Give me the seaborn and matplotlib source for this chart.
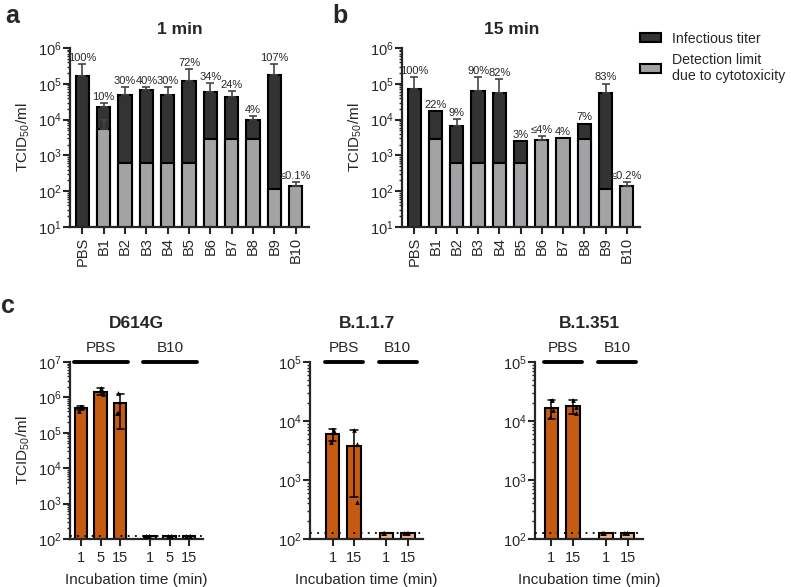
import numpy as np
import pandas as pd
import matplotlib.pyplot as plt
from matplotlib.patches import Patch
import seaborn as sns

sns.set_style('ticks')
plt.rcParams['font.family'] = ['Liberation Sans', 'DejaVu Sans']
plt.rcParams['font.size'] = 10
plt.rcParams['axes.linewidth'] = 1.6

# Panel a/b data (TCID50/ml)
beads = ['PBS', 'B1', 'B2', 'B3', 'B4', 'B5', 'B6', 'B7', 'B8', 'B9', 'B10']
nan = np.nan

titer_1min = [1.7e5, 2.3e4, 5.0e4, 6.8e4, 5.0e4, 1.2e5, 5.9e4, 4.3e4, 9.8e3, 1.8e5, nan]
titer_1min_top = [3.5e5, 2.9e4, 8.1e4, 8.1e4, 8.1e4, 2.6e5, 1.05e5, 6.3e4, 1.26e4, 3.5e5, nan]
limit_1min = [nan, 5.5e3, 600, 600, 600, 600, 2.9e3, 2.9e3, 2.9e3, 115, 140]
limit_1min_top = [nan, 9.8e3, nan, nan, nan, nan, nan, nan, nan, nan, 180]
pct_1min = ['100%', '10%', '30%', '40%', '30%', '72%', '34%', '24%', '4%', '107%', '≤0.1%']

titer_15min = [7.1e4, 1.75e4, 6.6e3, 6.3e4, 5.5e4, 2.5e3, nan, nan, 7.6e3, 5.5e4, nan]
titer_15min_top = [1.55e5, nan, 1.04e4, 1.55e5, 1.35e5, nan, nan, nan, nan, 1.0e5, nan]
limit_15min = [nan, 2.9e3, 600, 600, 600, 600, 2.7e3, 3.0e3, 2.9e3, 115, 140]
limit_15min_top = [nan, nan, nan, nan, nan, nan, 3.5e3, nan, nan, nan, 180]
pct_15min = ['100%', '22%', '9%', '90%', '82%', '3%', '≤4%', '4%', '7%', '83%', '≤0.2%']

# Panel c data: replicate titers per incubation time
d614g_times = ['1', '5', '15']
d614g_pbs = [[5.5e5, 5.5e5, 4.2e5], [1.85e6, 1.3e6, 1.25e6], [1.3e6, 3.6e5, 3.6e5]]
d614g_b10 = [[125, 125, 125], [125, 125, 125], [125, 125, 125]]

b117_times = ['1', '15']
b117_pbs = [[6.8e3, 6.8e3, 4.4e3], [7.0e3, 4.0e3, 430]]
b117_b10 = [[125, 125, 125], [125, 125, 125]]

b1351_times = ['1', '15']
b1351_pbs = [[2.3e4, 1.55e4, 1.15e4], [2.3e4, 1.75e4, 1.35e4]]
b1351_b10 = [[125, 125, 125], [125, 125, 125]]

detection_c = 125

dark = '#333333'
light = '#a3a3a5'
orange = '#c55a11'
light_orange = '#f4b183'

fig = plt.figure(figsize=(7.91, 5.87), dpi=100)
W, H = 791, 587


def add_ax(x0, x1, y0, y1):
    return fig.add_axes([x0 / W, 1 - y1 / H, (x1 - x0) / W, (y1 - y0) / H])


def style_log(ax, lo, hi):
    ax.set_yscale('log')
    ax.set_ylim(lo, hi)
    sns.despine(ax=ax)
    ax.tick_params(axis='y', which='major', length=5, width=1.5, labelsize=10.5, pad=1)
    ax.tick_params(axis='y', which='minor', length=2.5, width=1.0)
    ax.tick_params(axis='x', length=5, width=1.5, labelsize=10.5)


def draw_screen(ax, titer, titer_top, limit, limit_top, pct, title):
    df = pd.DataFrame({'bead': beads, 'titer': titer, 'limit': limit})
    kw = dict(edgecolor='black', linewidth=1.5, width=0.62, errorbar=None,
              saturation=1, ax=ax)
    sns.barplot(data=df, x='bead', y='titer', color=dark, **kw)
    sns.barplot(data=df, x='bead', y='limit', color=light, **kw)
    x = np.arange(len(beads))
    for vals, tops in [(titer, titer_top), (limit, limit_top)]:
        v = np.array(vals, float)
        t = np.array(tops, float)
        ok = ~np.isnan(t)
        ax.errorbar(x[ok], v[ok], yerr=[np.zeros(ok.sum()), t[ok] - v[ok]],
                    fmt='none', ecolor='#444444', elinewidth=1.2, capsize=3,
                    capthick=1.2, zorder=1)
    style_log(ax, 10, 1e6)
    ax.set_xlim(-0.58, 10.62)
    ax.set_xlabel('')
    ax.set_ylabel('TCID$_{\\mathdefault{50}}$/ml', fontsize=11)
    ax.tick_params(axis='x', rotation=90, pad=2)
    stack = np.vstack([titer, titer_top, limit, limit_top]).astype(float)
    for i, label in enumerate(pct):
        ax.annotate(label, (i, np.nanmax(stack[:, i])), xytext=(0, 1),
                    textcoords='offset points', ha='center', va='bottom',
                    fontsize=8)
    ax.set_title(title, fontsize=12.5, fontweight='bold', x=0.46, pad=10)


ax_a = add_ax(70, 309, 48, 227)
draw_screen(ax_a, titer_1min, titer_1min_top, limit_1min, limit_1min_top, pct_1min, '1 min')
ax_b = add_ax(402, 640, 48, 227)
draw_screen(ax_b, titer_15min, titer_15min_top, limit_15min, limit_15min_top, pct_15min, '15 min')

fig.legend(handles=[Patch(facecolor=dark, edgecolor='black', linewidth=1.5),
                    Patch(facecolor=light, edgecolor='black', linewidth=1.5)],
           labels=['Infectious titer', 'Detection limit\ndue to cytotoxicity'],
           loc='upper left', bbox_to_anchor=(634 / W, 1 - 26 / H), frameon=False,
           fontsize=10.2, handlelength=1.5, handleheight=0.6, handletextpad=0.8,
           labelspacing=0.5, borderaxespad=0)


def draw_variant(ax, times, pbs, b10, title, hi, xlim, ylabel):
    n = len(times)
    rows = []
    for i, t in enumerate(times):
        for v in pbs[i]:
            rows.append({'pos': i, 'group': 'PBS', 'titer': v})
        for v in b10[i]:
            rows.append({'pos': n + 0.5 + i, 'group': 'B10', 'titer': v})
    df = pd.DataFrame(rows)
    sns.barplot(data=df, x='pos', y='titer', hue='group', native_scale=True,
                dodge=False, palette={'PBS': orange, 'B10': light_orange},
                errorbar='sd', capsize=0.35, saturation=1, width=0.62,
                edgecolor='black', linewidth=1.5, legend=False,
                err_kws={'color': 'black', 'linewidth': 1.1}, ax=ax)
    np.random.seed(3)
    sns.stripplot(data=df, x='pos', y='titer', native_scale=True, marker='^',
                  color='black', size=3.4, jitter=0.18, ax=ax, zorder=5)
    ax.axhline(detection_c, color='black', ls=(0, (1, 3)), lw=1.3, zorder=6)
    style_log(ax, 1e2, hi)
    positions = sorted(df['pos'].unique())
    ax.set_xticks(positions, times + times)
    ax.set_xlim(*xlim)
    ax.set_xlabel('Incubation time (min)', fontsize=11, labelpad=6)
    ax.set_ylabel(ylabel, fontsize=11)
    for name, start in [('PBS', 0), ('B10', n + 0.5)]:
        x0, x1 = start - 0.35, start + n - 1 + 0.4
        ax.plot([x0, x1], [1.0, 1.0], color='black', lw=2.8,
                transform=ax.get_xaxis_transform(), clip_on=False)
        ax.text((x0 + x1) / 2, 1.04, name, ha='center', va='bottom',
                fontsize=11, transform=ax.get_xaxis_transform())
    ax.text(0.5, 1.22, title, ha='center', va='center', fontsize=12.5,
            fontweight='bold', transform=ax.transAxes)


ax_c1 = add_ax(70, 203, 362, 539)
draw_variant(ax_c1, d614g_times, d614g_pbs, d614g_b10, 'D614G', 1e7, (-0.55, 6.2),
             'TCID$_{\\mathdefault{50}}$/ml')
ax_c2 = add_ax(310, 423, 362, 539)
draw_variant(ax_c2, b117_times, b117_pbs, b117_b10, 'B.1.1.7', 1e5, (-1.05, 4.2), '')
ax_c3 = add_ax(535, 643, 362, 539)
draw_variant(ax_c3, b1351_times, b1351_pbs, b1351_b10, 'B.1.351', 1e5, (-0.75, 4.2), '')

for label, x, y in [('a', 12, 16), ('b', 340, 16), ('c', 8, 306)]:
    fig.text(x / W, 1 - y / H, label, fontsize=18, fontweight='bold',
             ha='center', va='center')

fig.savefig('out.png', dpi=100)
